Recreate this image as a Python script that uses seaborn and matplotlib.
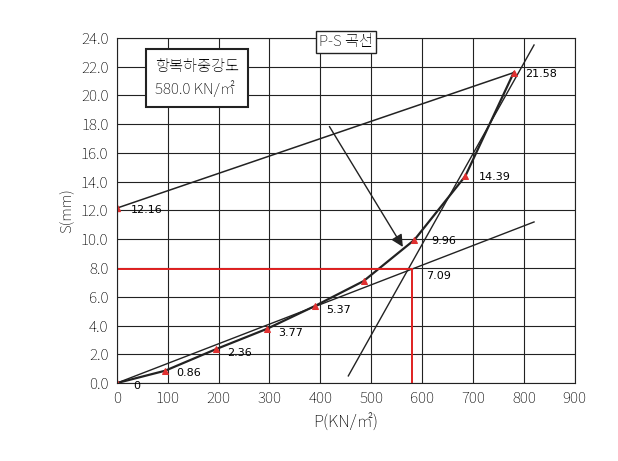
import matplotlib
matplotlib.use("Agg")
import matplotlib.pyplot as plt
from matplotlib import font_manager as fm
import seaborn as sns
import pandas as pd

cjk = [f.name for f in fm.fontManager.ttflist if "CJK" in f.name or "Noto Sans KR" in f.name]
kr = [n for n in cjk if "KR" in n] or cjk
plt.rcParams["font.family"] = (kr[:1] if kr else []) + ["DejaVu Sans"]
plt.rcParams["font.sans-serif"] = (kr[:1] if kr else []) + ["DejaVu Sans"]

load_p = [0, 95, 195, 295, 390, 485, 585, 685, 780]
settle = [0.0, 0.86, 2.36, 3.77, 5.37, 7.09, 9.96, 14.39, 21.58]
labels = ["0", "0.86", "2.36", "3.77", "5.37", "7.09", "9.96", "14.39", "21.58"]
start_p, start_s = [0], [12.16]
tan1_p, tan1_s = [0, 780], [12.16, 21.58]
tan2_p, tan2_s = [0, 820], [0.0, 11.2]
tan3_p, tan3_s = [455, 820], [0.5, 23.5]
yield_p, yield_s = 580, 7.9
xticks = list(range(0, 1000, 100))
yticks = [i * 2.0 for i in range(13)]

df = pd.DataFrame({"P": load_p, "S": settle})
fig = plt.figure(figsize=(6.18, 4.61), dpi=100)
ax = fig.add_axes([0.189, 0.169, 0.741, 0.749])
ax.plot(tan1_p, tan1_s, color="#222", lw=1.1)
ax.plot(tan2_p, tan2_s, color="#222", lw=1.0)
ax.plot(tan3_p, tan3_s, color="#222", lw=1.0)
sns.lineplot(data=df, x="P", y="S", ax=ax, color="#222", lw=1.6, marker="^",
             markersize=5, markerfacecolor="#e03030", markeredgecolor="#e03030")
ax.plot(start_p, start_s, marker="^", color="#e03030", markersize=5)
ax.plot([0, yield_p], [yield_s, yield_s], color="#e02020", lw=1.4)
ax.plot([yield_p, yield_p], [0, yield_s], color="#e02020", lw=1.4)
offs = [(12, -2), (8, -2), (8, -3), (8, -3), (8, -3), (45, 4), (12, -1), (10, -1), (8, -1)]
for p, s, l, o in zip(load_p, settle, labels, offs):
    ax.annotate(l, (p, s), xytext=o, textcoords="offset points", fontsize=8,
                va="center", fontfamily="DejaVu Sans")
ax.annotate("12.16", (0, 12.16), xytext=(10, -1), textcoords="offset points",
            fontsize=8, va="center", fontfamily="DejaVu Sans")
ax.annotate("", xy=(565, 9.3), xytext=(415, 18.0),
            arrowprops=dict(arrowstyle="-|>", color="#222", lw=1.0, mutation_scale=18))
ax.text(75, 21.2, "항복하중강도\n580.0 KN/㎡", fontsize=11, fontweight="bold",
        va="center", ha="left", linespacing=1.5,
        bbox=dict(boxstyle="square,pad=0.6", fc="white", ec="#222", lw=1.5))
ax.set_xlim(0, 900)
ax.set_ylim(0, 24)
ax.set_xticks(xticks)
ax.set_yticks(yticks)
ax.set_yticklabels([f"{v:.1f}" for v in yticks])
ax.tick_params(labelsize=11, length=0, pad=6)
ax.grid(True, color="#222", lw=0.8)
for s in ax.spines.values():
    s.set_color("#222")
ax.set_xlabel("P(KN/㎡)", fontsize=12)
ax.set_ylabel("S(mm)", fontsize=11)
ax.set_title("P-S 곡선", fontsize=11, pad=-6, y=1.0,
             bbox=dict(boxstyle="square,pad=0.2", fc="white", ec="#222"))
fig.savefig("out.png", dpi=100)
